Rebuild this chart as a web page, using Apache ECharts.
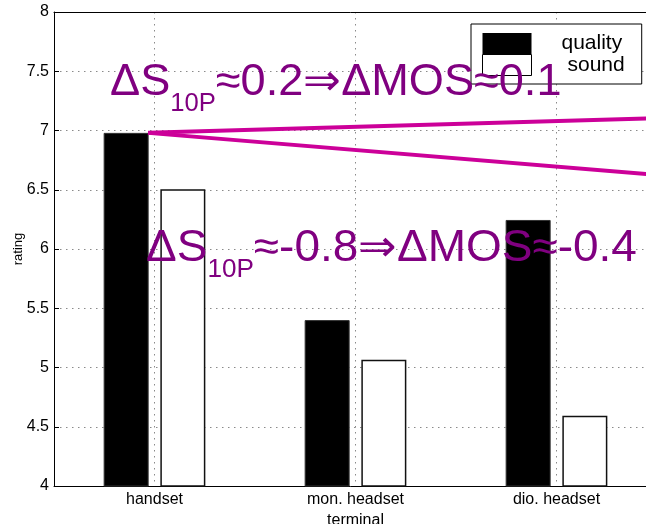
<!DOCTYPE html>
<html><head><meta charset="utf-8">
<script src="https://cdn.jsdelivr.net/npm/echarts@6/dist/echarts.min.js"></script>
<style>html,body{margin:0;padding:0;background:#fff}#c{width:646px;height:524px}</style>
</head><body><div id="c"></div>
<script>
// ---- data ----
const categories = ['handset', 'mon. headset', 'dio. headset'];
const quality = [6.98, 5.40, 6.245];
const sound = [6.505, 5.065, 4.593];
const trendUp = [[0.968, 6.98], [3.5, 7.105]];
const trendDown = [[0.968, 6.98], [3.5, 6.625]];
const note1 = ['ΔS', '10P', '≈0.2⇒ΔMOS≈0.1'];
const note2 = ['ΔS', '10P', '≈-0.8⇒ΔMOS≈-0.4'];
const yMin = 4, yMax = 8, yStep = 0.5;

const F = '"Liberation Sans", Arial, Helvetica, sans-serif';
const chart = echarts.init(document.getElementById('c'));
const grid = {left: 54, right: -11, top: 12, bottom: 38, outerBoundsMode: 'none', containLabel: false};
const dotted = {show: true, lineStyle: {color: '#8a8a8a', width: 1, type: [1.5, 4.5]}};

function noteRich() {
  return {
    a: {fontSize: 44, fontFamily: F, fill: '#800080', lineHeight: 44, verticalAlign: 'top'},
    b: {fontSize: 25, fontFamily: F, fill: '#800080', lineHeight: 25, verticalAlign: 'top', padding: [31, 0, 0, 0]}
  };
}
function noteText(n) { return '{a|' + n[0] + '}{b|' + n[1] + '}{a|' + n[2] + '}'; }

chart.setOption({
  animation: false,
  backgroundColor: '#fff',
  grid: grid,
  legend: {
    orient: 'vertical', left: 471, top: 24, itemWidth: 49, itemHeight: 21, itemGap: 0,
    padding: [9, 17, 8, 11], backgroundColor: '#fff', borderColor: '#000', borderWidth: 1,
    icon: 'rect', selectedMode: false, z: 20,
    formatter: function (name) { return name === 'quality' ? '{q|' + name + '}' : '{s|' + name + '}'; },
    textStyle: {
      fontSize: 21, fontFamily: F, color: '#000',
      rich: {
        q: {fontSize: 21, fontFamily: F, color: '#000', lineHeight: 18, padding: [0, 0, 0, 25]},
        s: {fontSize: 21, fontFamily: F, color: '#000', lineHeight: 18, padding: [0, 0, 0, 31]}
      }
    },
    data: [
      {name: 'quality', itemStyle: {borderWidth: 0}},
      {name: 'sound', itemStyle: {borderWidth: 1, borderColor: '#000'}}
    ]
  },
  xAxis: [
    {
      type: 'category', data: categories, position: 'bottom',
      name: 'terminal', nameLocation: 'middle', nameGap: 23,
      nameTextStyle: {fontSize: 16, fontFamily: F, color: '#000'},
      axisLine: {lineStyle: {color: '#000', width: 1}},
      axisTick: {inside: true, alignWithLabel: true, length: 5, lineStyle: {color: '#000'}},
      axisLabel: {fontSize: 16, fontFamily: F, color: '#000', margin: 6},
      splitLine: {show: false}
    },
    {
      type: 'category', data: categories, position: 'top',
      axisLine: {show: true, lineStyle: {color: '#000', width: 1}},
      axisTick: {inside: true, alignWithLabel: true, length: 5, lineStyle: {color: '#000'}},
      axisLabel: {show: false}, splitLine: {show: false}
    },
    {
      type: 'value', min: 0.5, max: 3.5, splitNumber: 3, position: 'bottom',
      axisLine: {show: false}, axisTick: {show: false}, axisLabel: {show: false},
      splitLine: dotted
    }
  ],
  yAxis: {
    type: 'value', min: yMin, max: yMax, interval: yStep,
    name: 'rating', nameLocation: 'middle', nameGap: 29, nameRotate: 90, nameMoveOverlap: false,
    nameTextStyle: {fontSize: 13, fontFamily: F, color: '#000'},
    axisLine: {show: true, lineStyle: {color: '#000', width: 1}},
    axisTick: {show: true, inside: true, length: 5, lineStyle: {color: '#000'}},
    axisLabel: {fontSize: 16, fontFamily: F, color: '#000', margin: 5},
    splitLine: dotted
  },
  series: [
    {
      name: 'quality', type: 'bar', data: quality, barWidth: 45, barGap: '26%',
      itemStyle: {color: '#000', borderColor: '#333', borderWidth: 1}
    },
    {
      name: 'sound', type: 'bar', data: sound, barWidth: 45, barGap: '26%',
      itemStyle: {color: '#fff', borderColor: '#111', borderWidth: 1.5}
    },
    {
      name: 'up', type: 'line', xAxisIndex: 2, data: trendUp, symbol: 'none', z: 5,
      lineStyle: {color: '#CC0099', width: 4}
    },
    {
      name: 'down', type: 'line', xAxisIndex: 2, data: trendDown, symbol: 'none', z: 5,
      lineStyle: {color: '#CC0099', width: 4}
    }
  ],
  graphic: [
    {type: 'text', x: 110, y: 61, scaleX: 1.025, z: 100,
     style: {text: noteText(note1), rich: noteRich(), align: 'left', verticalAlign: 'top'}},
    {type: 'text', x: 146, y: 227, scaleX: 1.045, z: 100,
     style: {text: noteText(note2), rich: noteRich(), align: 'left', verticalAlign: 'top'}}
  ]
});
</script>
</body></html>
